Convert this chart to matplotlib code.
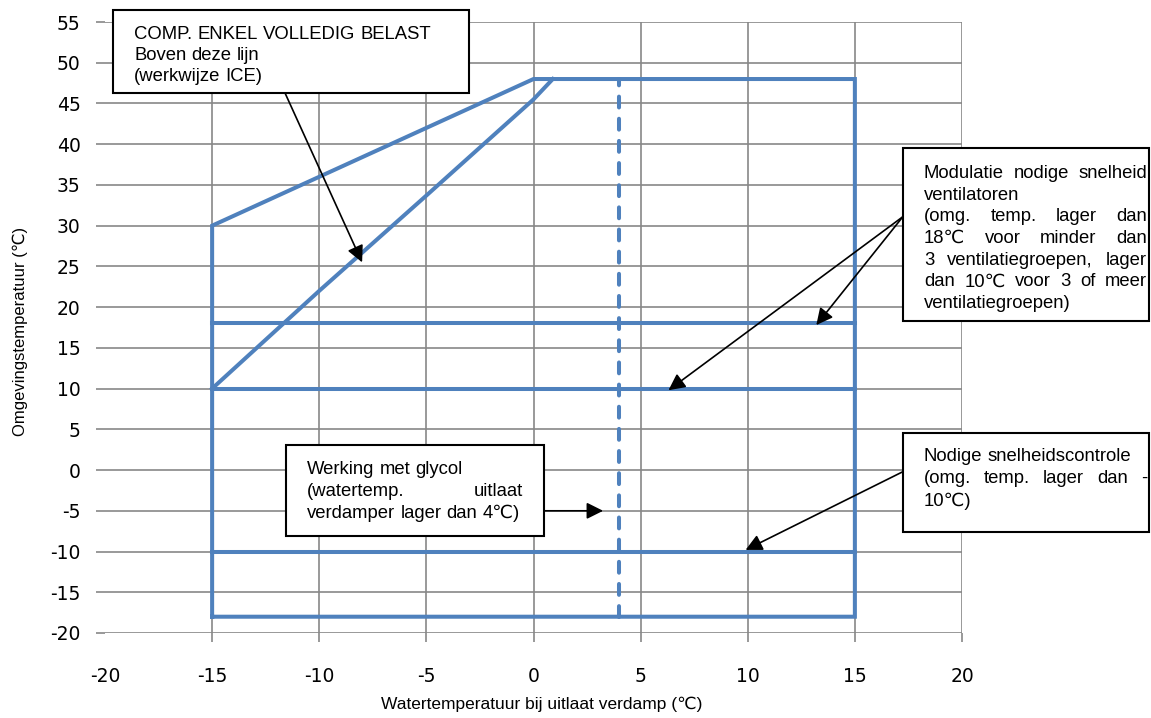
import matplotlib
matplotlib.use("Agg")
import matplotlib.pyplot as plt
from matplotlib.patches import Rectangle

plt.rcParams["axes.unicode_minus"] = False

# envelope data (x = water temp, y = ambient temp)
outer_x = [-15, -15, -10, -5, 0, 15, 15, -15]
outer_y = [-18, 30, 36, 42, 48, 48, -18, -18]
ice_x = [-15, -10, -5, 0, 0.9]
ice_y = [10, 22, 33.7, 45.5, 48]
limit_y = [18, 10, -10]
limit_x = [-15, 15]
glycol_x = [4, 4]
glycol_y = [-18, 48]

xticks = [-20, -15, -10, -5, 0, 5, 10, 15, 20]
yticks = [-20, -15, -10, -5, 0, 5, 10, 15, 20, 25, 30, 35, 40, 45, 50, 55]

blue = "#4F81BD"
grid_c = "#878787"
W, H = 1151, 718
LW = 2.9

fig = plt.figure(figsize=(W/100, H/100), dpi=100)
ax = fig.add_axes([105/W, 1-633/H, 857/W, 611/H])

ax.plot(outer_x, outer_y, color=blue, lw=LW, solid_joinstyle="miter")
ax.plot(ice_x, ice_y, color=blue, lw=LW)
for yv in limit_y:
    ax.plot(limit_x, [yv, yv], color=blue, lw=LW)
ax.plot(glycol_x, glycol_y, color=blue, lw=LW, dashes=(2.7, 2.8), dash_capstyle="round")

ax.set_xlim(-20, 20)
ax.set_ylim(-20, 55)
ax.set_xticks(xticks)
ax.set_yticks(yticks)
ax.grid(True, color=grid_c, lw=1.2)
ax.set_axisbelow(True)
for s in ax.spines.values():
    s.set_visible(False)
ax.tick_params(axis="both", color=grid_c, width=1.2, length=6.5, labelsize=13.5)
ax.tick_params(axis="x", pad=18)
ax.tick_params(axis="y", pad=11)
xt = ax.xaxis.get_major_ticks()
xt[0].tick1line.set_visible(False)
xt[0].gridline.set_visible(False)

lab_font = ["Liberation Sans", "DejaVu Sans"]
ax.set_xlabel("Watertemperatuur bij uitlaat verdamp (℃)", family=lab_font, fontsize=12.5, va="center")
ax.xaxis.set_label_coords((542-105)/857, (633-704)/611)
ax.set_ylabel("Omgevingstemperatuur (℃)", family=lab_font, fontsize=12, va="center")
ax.yaxis.set_label_coords((20-105)/857, (633-331)/611)

# arrows
arr = dict(arrowstyle="-|>", color="black", lw=1.2, mutation_scale=25, shrinkA=0, shrinkB=0)
ax.annotate("", xy=(-8.0, 25.5), xytext=(-11.6, 46.3), arrowprops=arr, annotation_clip=False)
ax.annotate("", xy=(13.2, 17.8), xytext=(17.24, 31.1), arrowprops=arr, annotation_clip=False)
ax.annotate("", xy=(6.3, 9.8), xytext=(17.24, 31.1), arrowprops=arr, annotation_clip=False)
ax.annotate("", xy=(3.25, -5), xytext=(0.5, -5), arrowprops=arr, annotation_clip=False)
ax.annotate("", xy=(9.9, -9.8), xytext=(17.24, -0.2), arrowprops=arr, annotation_clip=False)

# text boxes (pixel positions)
def box(x0, y0, x1, y1):
    fig.patches.append(Rectangle((x0/W, 1-y1/H), (x1-x0)/W, (y1-y0)/H, transform=fig.transFigure,
                                 facecolor="white", edgecolor="black", lw=1.5, zorder=2))

renderer = fig.canvas.get_renderer()
box_fs = 13.3
space_px = 0.278 * box_fs * 100/72

def put_line(text, x0, x1, yc, justify=False):
    words = text.split()
    items = [fig.text(0, 0, w, family=lab_font, fontsize=box_fs, va="baseline", zorder=3) for w in words]
    widths = [t.get_window_extent(renderer).width for t in items]
    gap = space_px
    if justify and len(words) > 1:
        gap = (x1 - x0 - sum(widths)) / (len(words) - 1)
    x = x0
    for t, w in zip(items, widths):
        t.set_position((x/W, 1-(yc+6)/H))
        x += w + gap

box(113, 10, 469, 93)
put_line("COMP. ENKEL VOLLEDIG BELAST", 134, 440, 33)
put_line("Boven deze lijn", 134, 440, 54)
put_line("(werkwijze ICE)", 134, 440, 75)

box(903, 148, 1149, 321)
box2_lines = ["Modulatie nodige snelheid", "ventilatoren", "(omg. temp. lager dan",
              "18℃ voor minder dan", "3 ventilatiegroepen, lager", "dan 10℃ voor 3 of meer",
              "ventilatiegroepen)"]
box2_just = [True, False, True, True, True, True, False]
for i, (ln, j) in enumerate(zip(box2_lines, box2_just)):
    put_line(ln, 924, 1147, 172 + i*21.7, j)

box(286, 445, 544, 536)
put_line("Werking met glycol", 307, 523, 468)
put_line("(watertemp. uitlaat", 307, 523, 490, True)
put_line("verdamper lager dan 4℃)", 307, 523, 512)

box(903, 433, 1149, 532)
put_line("Nodige snelheidscontrole", 924, 1147, 455)
put_line("(omg. temp. lager dan -", 924, 1147, 477, True)
put_line("10℃)", 924, 1147, 500)

fig.savefig("out.png", dpi=100)
